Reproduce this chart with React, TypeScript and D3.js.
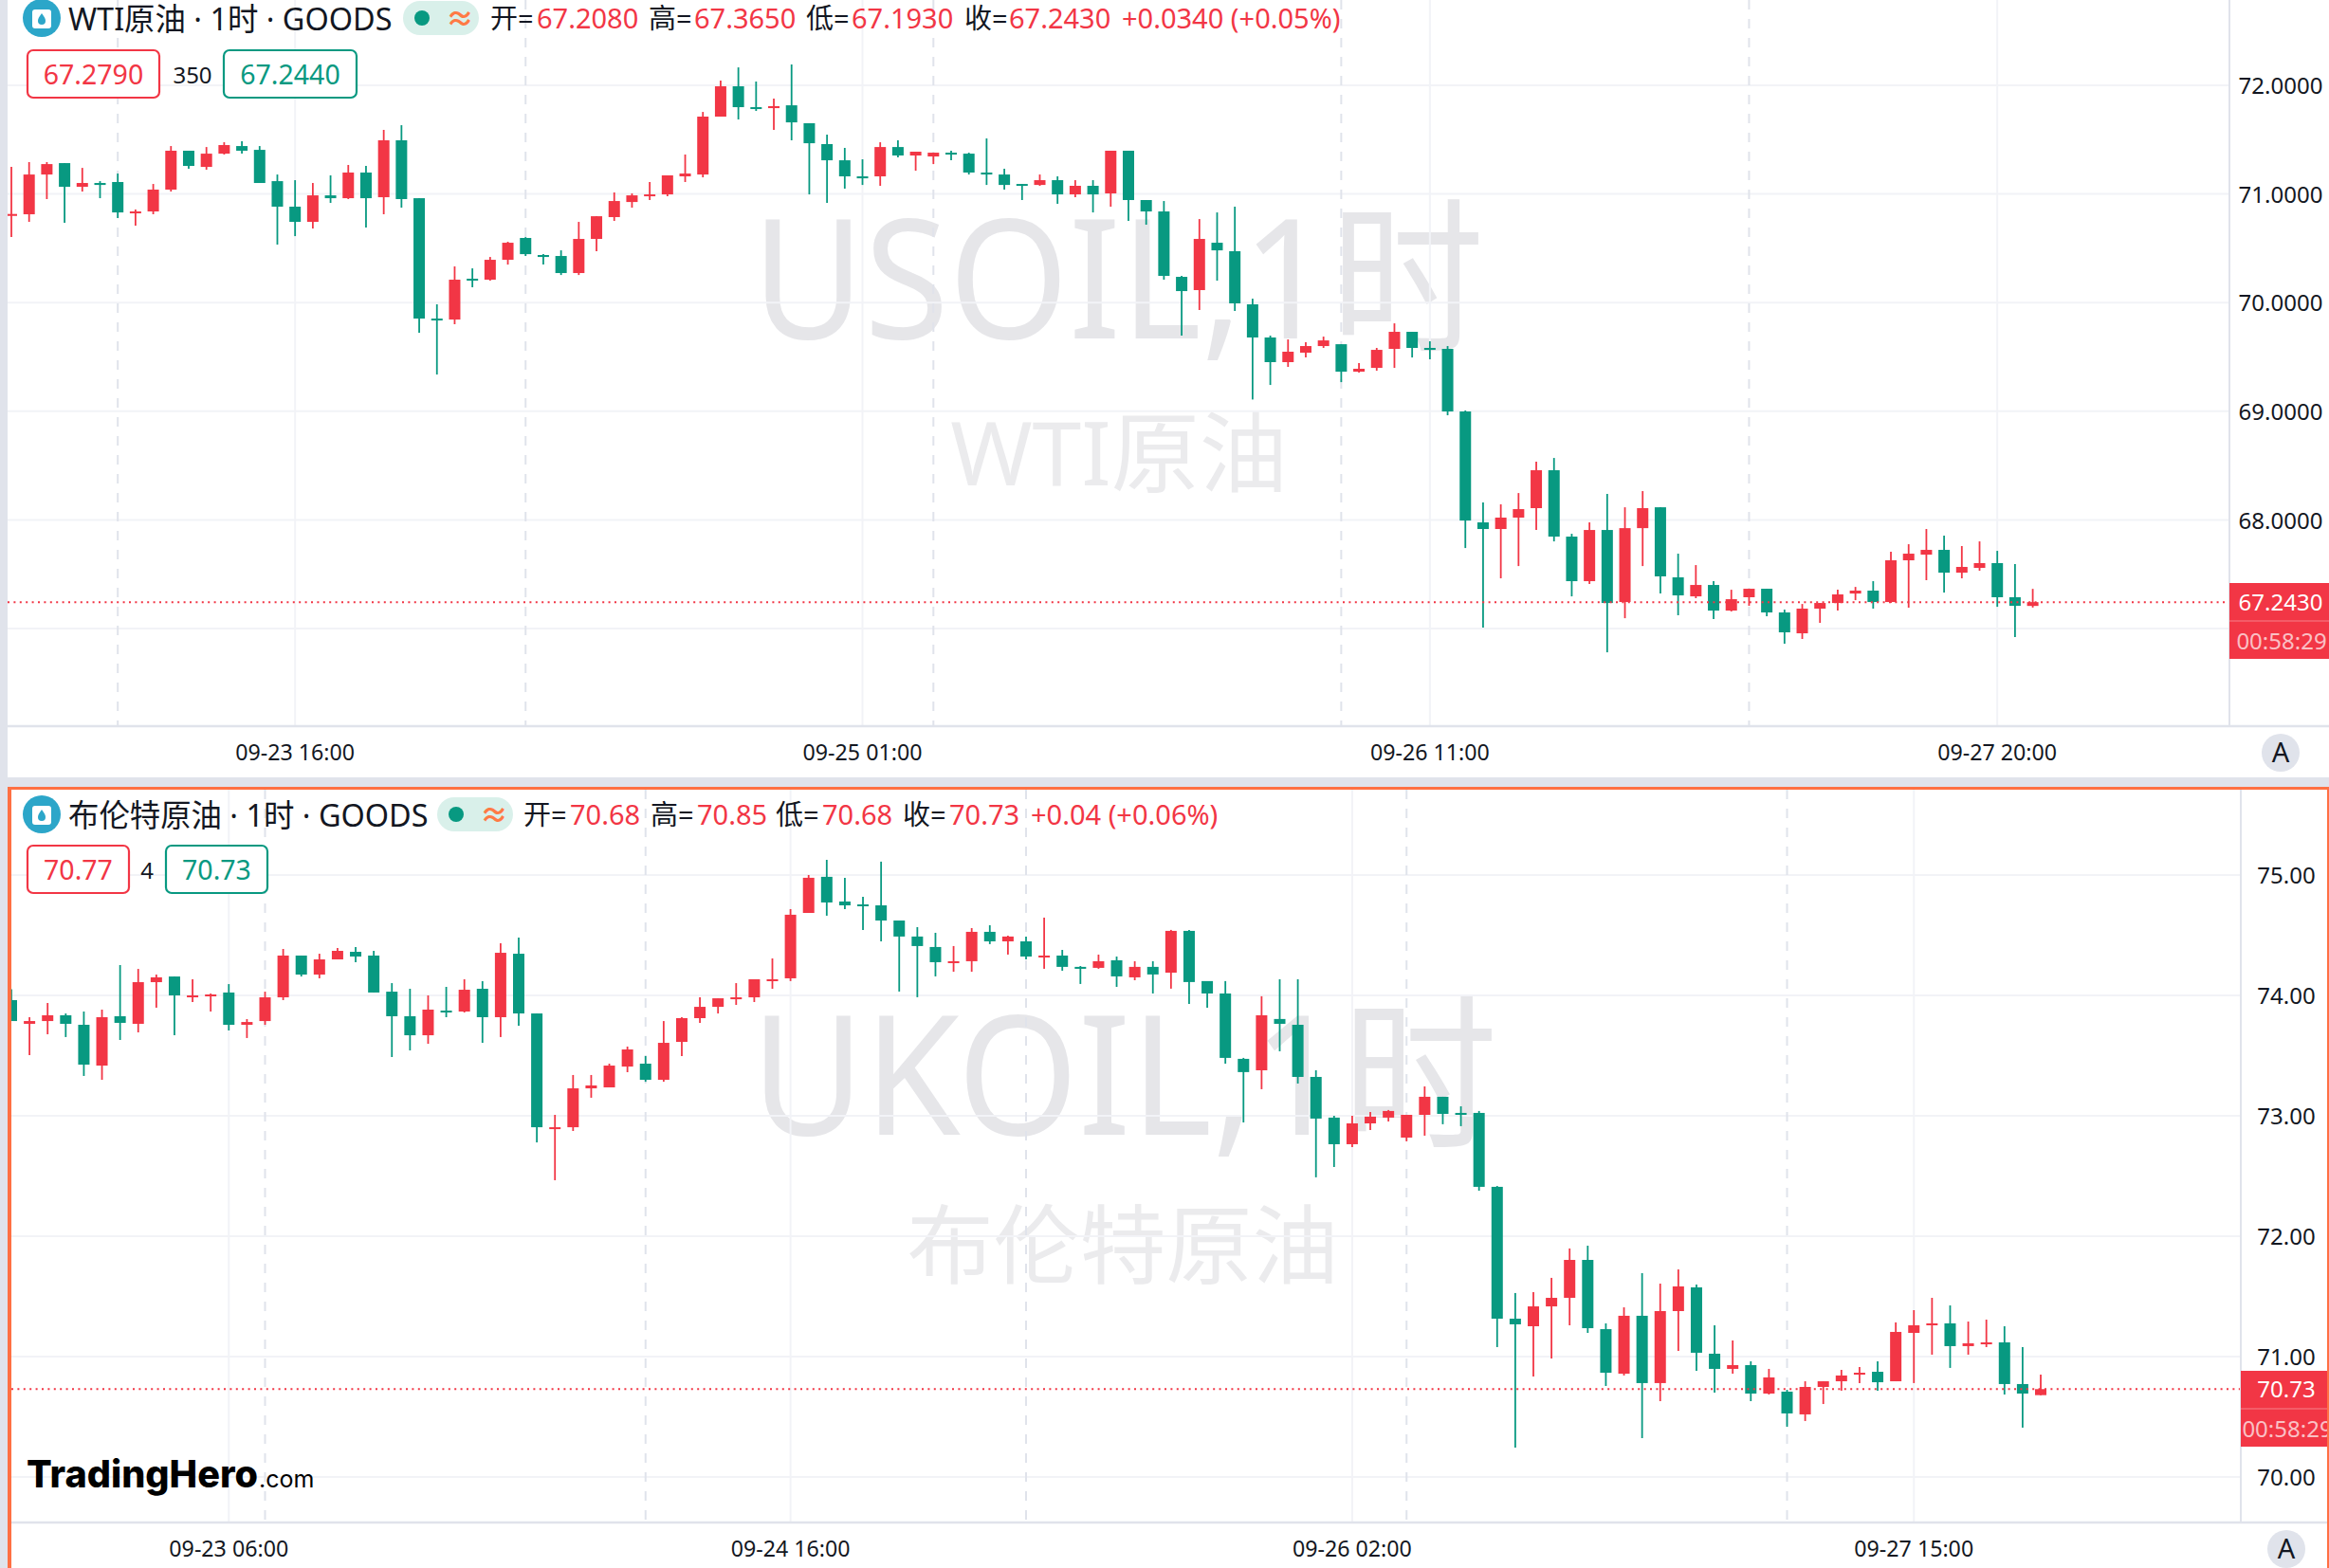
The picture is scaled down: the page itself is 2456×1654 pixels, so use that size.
import React from "react";
import * as d3 from "d3";

const wtiOpen = [70.798,70.813,71.179,71.284,71.066,71.101,71.110,70.822,70.839,71.040,
71.398,71.249,71.371,71.441,71.406,71.118,70.883,70.743,70.987,70.961,
71.197,70.970,71.494,70.961,69.853,69.844,70.220,70.211,70.394,70.595,
70.438,70.429,70.272,70.586,70.787,70.926,70.979,70.996,71.162,71.179,
71.712,71.991,71.799,71.790,71.816,71.651,71.459,71.310,71.162,71.162,
71.432,71.354,71.345,71.380,71.371,71.197,71.179,71.092,71.083,71.127,
70.996,71.075,71.005,71.398,70.944,70.839,70.237,70.115,70.551,70.473,
69.984,69.679,69.452,69.539,69.600,69.617,69.364,69.399,69.574,69.731,
69.583,69.574,68.998,67.977,67.916,68.021,68.108,68.457,67.846,67.436,
67.907,67.244,67.924,68.116,67.471,67.296,67.401,67.165,67.288,67.366,
67.148,66.956,67.183,67.235,67.322,67.349,67.244,67.628,67.680,67.724,
67.514,67.558,67.602,67.288,67.208];
const wtiHigh = [71.249,71.293,71.293,71.284,71.240,71.118,71.188,70.857,71.092,71.441,
71.398,71.432,71.476,71.485,71.441,71.179,71.127,71.101,71.171,71.267,
71.258,71.590,71.633,70.961,69.984,70.333,70.315,70.420,70.560,70.603,
70.446,70.481,70.743,70.795,71.014,71.005,71.110,71.171,71.363,71.755,
72.043,72.165,72.035,71.877,72.192,71.651,71.546,71.424,71.319,71.476,
71.494,71.389,71.380,71.398,71.380,71.511,71.232,71.092,71.179,71.162,
71.127,71.127,71.398,71.398,70.944,70.935,70.246,70.769,70.830,70.883,
70.036,69.696,69.661,69.635,69.687,69.617,69.443,69.583,69.809,69.731,
69.644,69.600,69.007,68.160,68.143,68.247,68.535,68.570,67.872,67.977,
68.239,68.116,68.265,68.116,67.689,67.584,67.436,67.357,67.366,67.366,
67.174,67.226,67.235,67.357,67.383,67.436,67.706,67.776,67.916,67.855,
67.759,67.802,67.715,67.593,67.365];
const wtiLow = [70.603,70.743,70.953,70.734,71.022,70.961,70.778,70.708,70.813,71.022,
71.232,71.223,71.363,71.371,71.101,70.534,70.612,70.682,70.918,70.953,
70.691,70.813,70.874,69.722,69.338,69.801,70.141,70.202,70.350,70.429,
70.350,70.254,70.254,70.473,70.752,70.874,70.944,70.979,71.110,71.153,
71.712,71.686,71.764,71.590,71.494,70.996,70.918,71.049,71.083,71.075,
71.336,71.214,71.275,71.310,71.179,71.083,71.040,70.944,71.075,70.909,
70.970,70.830,70.883,70.752,70.717,70.211,69.696,69.932,70.202,69.923,
69.108,69.242,69.408,69.495,69.583,69.268,69.356,69.373,69.399,69.495,
69.478,68.963,67.741,67.008,67.462,67.575,67.907,67.802,67.296,67.410,
66.781,67.095,67.575,67.322,67.122,67.279,67.087,67.157,67.209,67.113,
66.860,66.904,67.052,67.165,67.261,67.183,67.235,67.192,67.445,67.331,
67.462,67.532,67.200,66.921,67.193];
const wtiClose = [70.816,71.179,71.275,71.066,71.101,71.083,70.830,70.839,71.040,71.398,
71.258,71.371,71.450,71.398,71.101,70.883,70.743,70.987,70.961,71.197,
70.961,71.494,70.953,69.853,69.836,70.211,70.202,70.394,70.551,70.446,
70.420,70.272,70.586,70.795,70.935,70.987,70.996,71.171,71.188,71.712,
71.991,71.799,71.782,71.808,71.659,71.467,71.310,71.162,71.144,71.432,
71.354,71.389,71.380,71.363,71.197,71.179,71.083,71.075,71.127,70.996,
71.075,70.996,71.398,70.944,70.839,70.246,70.106,70.586,70.481,69.993,
69.679,69.452,69.548,69.600,69.652,69.364,69.391,69.565,69.731,69.583,
69.565,68.998,67.994,67.916,68.021,68.099,68.457,67.846,67.436,67.907,
67.235,67.924,68.108,67.480,67.305,67.401,67.165,67.270,67.366,67.148,
66.965,67.183,67.235,67.314,67.349,67.244,67.628,67.689,67.724,67.514,
67.567,67.602,67.288,67.209,67.243];

const brentOpen = [73.961,73.764,73.787,73.835,73.756,73.417,73.827,73.764,74.110,74.157,
73.984,73.992,74.024,73.756,73.787,73.984,74.331,74.173,74.299,74.362,
74.331,74.031,73.827,73.669,73.874,73.866,74.055,73.819,74.346,73.850,
72.890,72.905,73.228,73.236,73.409,73.433,73.299,73.614,73.811,73.905,
73.968,73.984,74.118,74.142,74.685,74.985,74.780,74.756,74.748,74.622,
74.489,74.402,74.268,74.284,74.528,74.449,74.449,74.315,74.331,74.237,
74.229,74.292,74.150,74.237,74.189,74.536,74.119,74.016,73.473,73.378,
73.804,73.756,73.323,72.985,72.764,72.937,72.985,72.819,73.008,73.158,
73.024,73.024,72.410,71.315,71.252,71.417,71.488,71.803,71.228,70.858,
71.339,70.780,71.378,71.575,71.024,70.898,70.929,70.693,70.709,70.520,
70.748,70.795,70.850,70.874,70.795,71.197,71.260,71.276,71.087,71.102,
71.118,70.772,70.68];
const brentHigh = [74.052,73.819,73.937,73.850,73.866,73.882,74.252,74.220,74.173,74.157,
74.134,74.016,74.094,73.803,74.031,74.386,74.331,74.346,74.394,74.402,
74.370,74.102,74.055,74.000,74.071,74.134,74.118,74.433,74.480,73.850,
73.008,73.339,73.339,73.433,73.575,73.496,73.787,73.819,73.984,73.976,
74.102,74.134,74.307,74.717,75.000,75.126,74.977,74.819,75.111,74.622,
74.567,74.520,74.410,74.559,74.583,74.496,74.489,74.646,74.378,74.244,
74.339,74.323,74.284,74.284,74.544,74.544,74.119,74.119,73.481,73.993,
74.134,74.134,73.378,73.000,73.000,73.032,73.048,73.008,73.244,73.158,
73.079,73.040,72.417,71.528,71.535,71.654,71.898,71.921,71.276,71.409,
71.693,71.606,71.724,71.598,71.260,71.134,70.961,70.898,70.724,70.795,
70.795,70.890,70.913,70.961,71.284,71.386,71.488,71.425,71.291,71.307,
71.252,71.079,70.85];
const brentLow = [73.787,73.504,73.677,73.654,73.331,73.299,73.630,73.693,73.898,73.669,
73.945,73.866,73.709,73.646,73.756,73.961,74.157,74.142,74.299,74.276,
74.024,73.488,73.543,73.598,73.819,73.858,73.606,73.654,73.748,72.779,
72.465,72.874,73.150,73.236,73.362,73.283,73.283,73.496,73.772,73.850,
73.921,73.945,74.055,74.119,74.685,74.662,74.717,74.544,74.449,74.032,
73.985,74.158,74.197,74.197,74.426,74.339,74.300,74.221,74.205,74.095,
74.221,74.071,74.126,74.016,74.056,73.930,73.898,73.433,72.945,73.221,
73.536,73.268,72.489,72.575,72.741,72.882,72.953,72.788,72.835,72.930,
72.914,72.378,71.079,70.244,70.835,70.984,71.260,71.197,70.756,70.843,
70.323,70.630,71.047,70.882,70.701,70.858,70.630,70.685,70.417,70.465,
70.606,70.717,70.780,70.717,70.795,70.780,71.016,70.906,71.016,71.079,
70.685,70.410,70.68];
const brentClose = [73.787,73.787,73.835,73.764,73.425,73.819,73.772,74.110,74.150,74.000,
74.000,74.008,73.756,73.779,73.984,74.331,74.173,74.299,74.370,74.323,
74.024,73.827,73.669,73.882,73.858,74.047,73.819,74.354,73.850,72.905,
72.905,73.228,73.252,73.417,73.551,73.299,73.606,73.811,73.905,73.976,
73.984,74.134,74.134,74.670,74.977,74.772,74.748,74.741,74.622,74.489,
74.410,74.276,74.284,74.528,74.449,74.489,74.323,74.331,74.237,74.221,
74.284,74.158,74.237,74.174,74.536,74.111,74.016,73.481,73.363,73.835,
73.764,73.323,72.977,72.764,72.937,72.993,73.040,73.008,73.158,73.016,
73.008,72.410,71.315,71.268,71.417,71.488,71.803,71.236,70.866,71.339,
70.780,71.378,71.583,71.032,70.898,70.929,70.693,70.827,70.528,70.748,
70.795,70.843,70.866,70.787,71.205,71.260,71.276,71.087,71.110,71.118,
70.772,70.693,70.73];

const wtiPriceTicks = [72, 71, 70, 69, 68, 67];
const brentPriceTicks = [75, 74, 73, 72, 71, 70];
const wtiTimeIndex = [16, 48, 80, 112];
const wtiTimeLabels = ["09-23 16:00", "09-25 01:00", "09-26 11:00", "09-27 20:00"];
const brentTimeIndex = [12, 43, 74, 105];
const brentTimeLabels = ["09-23 06:00", "09-24 16:00", "09-26 02:00", "09-27 15:00"];
const wtiSessionIndex = [6, 29, 52, 75, 98];
const brentSessionIndex = [14, 35, 56, 77, 98];

const RED = "#f23645";
const GREEN = "#089981";
const GRID = "#f2f3f7";
const AXIS = "#e0e3eb";
const ORANGE = "#ff7043";
const FONT = "'Noto Sans','Noto Sans CJK SC',sans-serif";

type Part = { x: number; t: string; c: string };
type PanelProps = {
  id: string; open: number[]; high: number[]; low: number[]; close: number[];
  priceTicks: number[]; decimals: number; yDomain: [number, number]; yRange: [number, number];
  xEnd: number; timeIndex: number[]; timeLabels: string[]; sessionIndex: number[];
  plotLeft: number; plotTop: number; plotBottom: number; axisX: number; axisLabelX: number;
  lastPrice: number; countdown: string; tagTop: number;
  title: string; titleY: number; pillX: number; ohlc: Part[];
  boxY: number; bid: string; ask: string; spread: string; bidBox: [number, number]; askBox: [number, number]; spreadX: number;
  wm1: string; wm1X: number; wm1Len: number; wm1Y: number; wm2: string; wm2X: number; wm2Y: number; wm2Size: number; labelY: number; btnX: number;
};

function Panel(p: PanelProps) {
  const n = p.open.length;
  const x = d3.scaleLinear().domain([0, n - 1]).range([12, p.xEnd]);
  const y = d3.scaleLinear().domain(p.yDomain).range(p.yRange);
  const lastY = y(p.lastPrice);
  const cy = p.titleY;
  return (
    <g fontFamily={FONT}>
      <defs>
        <clipPath id={p.id + "clip"}>
          <rect x={p.plotLeft} y={p.plotTop} width={p.axisX - p.plotLeft} height={p.plotBottom - p.plotTop} />
        </clipPath>
        <clipPath id={p.id + "tag"}>
          <rect x={p.axisX} y={p.tagTop} width={2456 - p.axisX} height={80} />
        </clipPath>
      </defs>
      <text x={p.wm1X} y={p.wm1Y} fontSize={175} fill="#e6e6e9" textLength={p.wm1Len} lengthAdjust="spacingAndGlyphs">{p.wm1}</text>
      <text x={p.wm2X} y={p.wm2Y} textAnchor="middle" fontSize={p.wm2Size} fill="#ebebed">{p.wm2}</text>
      {p.priceTicks.map((t) => (
        <line key={t} x1={p.plotLeft} x2={p.axisX} y1={y(t)} y2={y(t)} stroke={GRID} strokeWidth={2} />
      ))}
      {p.timeIndex.map((i) => (
        <line key={i} x1={x(i)} x2={x(i)} y1={p.plotTop} y2={p.plotBottom} stroke={GRID} strokeWidth={2} />
      ))}
      {p.sessionIndex.map((i) => (
        <line key={i} x1={x(i)} x2={x(i)} y1={p.plotTop} y2={p.plotBottom} stroke={AXIS} strokeWidth={2} strokeDasharray="10 10" />
      ))}
      <g clipPath={`url(#${p.id}clip)`}>
        {p.open.map((o, i) => {
          const c = p.close[i];
          const col = c >= o ? RED : GREEN;
          const top = y(Math.max(o, c));
          const bot = y(Math.min(o, c));
          return (
            <g key={i}>
              <line x1={x(i)} x2={x(i)} y1={y(p.high[i])} y2={y(p.low[i])} stroke={col} strokeWidth={1.8} />
              <rect x={x(i) - 6} width={12} y={top} height={Math.max(bot - top, 2)} fill={col} />
            </g>
          );
        })}
      </g>
      <line x1={p.plotLeft} x2={p.axisX} y1={lastY} y2={lastY} stroke={RED} strokeWidth={2} strokeDasharray="2 4.4" />
      <line x1={p.axisX} x2={p.axisX} y1={p.plotTop} y2={p.plotBottom} stroke={AXIS} strokeWidth={2} />
      <line x1={p.plotLeft} x2={2456} y1={p.plotBottom + 1} y2={p.plotBottom + 1} stroke={AXIS} strokeWidth={2.5} />
      {p.priceTicks.filter((t) => t >= p.yDomain[0] + (p.id === "w" ? 1 : 0)).map((t) => (
        <text key={t} x={p.axisLabelX} y={y(t) + 0.5} dy="0.36em" textAnchor="middle" fontSize={24} fill="#131722">
          {t.toFixed(p.decimals)}
        </text>
      ))}
      {p.timeIndex.map((i, k) => (
        <text key={i} x={x(i)} y={p.labelY + 0.5} dy="0.36em" textAnchor="middle" fontSize={23.2} fill="#131722">
          {p.timeLabels[k]}
        </text>
      ))}
      <g clipPath={`url(#${p.id}tag)`}>
        <rect x={p.axisX} y={p.tagTop} width={2456 - p.axisX} height={80} fill={RED} />
        <line x1={p.axisX} x2={2456} y1={p.tagTop + 40} y2={p.tagTop + 40} stroke="#fff" strokeOpacity={0.25} strokeWidth={1.5} />
        <text x={p.axisLabelX} y={lastY + 0.5} dy="0.36em" textAnchor="middle" fontSize={24} fill="#fff">{p.lastPrice.toFixed(p.decimals)}</text>
        <text x={p.axisLabelX + 1} y={p.tagTop + 61.5} dy="0.36em" textAnchor="middle" fontSize={24} fill="#fff" fillOpacity={0.7}>{p.countdown}</text>
      </g>
      <circle cx={p.btnX} cy={p.labelY + 1} r={20} fill={AXIS} />
      <text x={p.btnX} y={p.labelY + 1} dy="0.36em" textAnchor="middle" fontSize={29} fill="#131722">A</text>

      <circle cx={44} cy={cy} r={20} fill="#2ca6c9" />
      <rect x={34} y={cy - 9} width={20} height={20} rx={3} fill="#fff" />
      <path d={`M44 ${cy - 5} C47 ${cy - 1} 48 ${cy + 1} 48 ${cy + 3} A4 4 0 0 1 40 ${cy + 3} C40 ${cy + 1} 41 ${cy - 1} 44 ${cy - 5} Z`} fill="#2ca6c9" />
      <text x={72} y={cy + 1} dy="0.36em" fontSize={32.4} fill="#131722">{p.title}</text>
      <rect x={p.pillX} y={cy - 18} width={80} height={36} rx={18} fill="#d9f0ea" />
      <circle cx={p.pillX + 20} cy={cy} r={8} fill={GREEN} />
      <text x={p.pillX + 60} y={cy} dy="0.36em" textAnchor="middle" fontSize={30} fontWeight={700} fill="#ff7a45">≈</text>
      {p.ohlc.map((s, i) => (
        <text key={i} x={s.x} y={cy + 1} dy="0.36em" fontSize={29} fill={s.c}>{s.t}</text>
      ))}
      <rect x={p.bidBox[0]} y={p.boxY} width={p.bidBox[1] - p.bidBox[0]} height={50} rx={6} fill="#fff" stroke={RED} strokeWidth={2.2} />
      <text x={(p.bidBox[0] + p.bidBox[1]) / 2} y={p.boxY + 26} dy="0.36em" textAnchor="middle" fontSize={28.5} fill={RED}>{p.bid}</text>
      <text x={p.spreadX} y={p.boxY + 26} dy="0.36em" textAnchor="middle" fontSize={24} fill="#131722">{p.spread}</text>
      <rect x={p.askBox[0]} y={p.boxY} width={p.askBox[1] - p.askBox[0]} height={50} rx={6} fill="#fff" stroke={GREEN} strokeWidth={2.2} />
      <text x={(p.askBox[0] + p.askBox[1]) / 2} y={p.boxY + 26} dy="0.36em" textAnchor="middle" fontSize={28.5} fill={GREEN}>{p.ask}</text>
    </g>
  );
}

const K = "#131722";

export default function App() {
  return (
    <svg width={2456} height={1654} viewBox="0 0 2456 1654" style={{ position: "absolute", left: 0, top: 0, display: "block", background: "#fff" }}>
      <rect x={0} y={0} width={8} height={1654} fill={AXIS} />
      <rect x={0} y={820} width={2456} height={10} fill={AXIS} />
      <Panel
        id="w" open={wtiOpen} high={wtiHigh} low={wtiLow} close={wtiClose}
        priceTicks={wtiPriceTicks} decimals={4} yDomain={[67, 72]} yRange={[663, 90]} xEnd={2143.6}
        timeIndex={wtiTimeIndex} timeLabels={wtiTimeLabels} sessionIndex={wtiSessionIndex}
        plotLeft={8} plotTop={0} plotBottom={765} axisX={2351} axisLabelX={2405}
        lastPrice={67.243} countdown="00:58:29" tagTop={615}
        title="WTI原油 · 1时 · GOODS" titleY={19} pillX={425}
        ohlc={[
          { x: 517, t: "开=", c: K }, { x: 566, t: "67.2080", c: RED },
          { x: 684, t: "高=", c: K }, { x: 732, t: "67.3650", c: RED },
          { x: 850, t: "低=", c: K }, { x: 898, t: "67.1930", c: RED },
          { x: 1017, t: "收=", c: K }, { x: 1064, t: "67.2430", c: RED },
          { x: 1183, t: "+0.0340 (+0.05%)", c: RED },
        ]}
        boxY={53} bid="67.2790" ask="67.2440" spread="350" bidBox={[29, 168]} askBox={[236, 376]} spreadX={203}
        wm1="USOIL,1时" wm1X={793} wm1Len={772} wm1Y={357} wm2="WTI原油" wm2X={1180} wm2Y={512} wm2Size={93} labelY={793} btnX={2405}
      />
      <Panel
        id="b" open={brentOpen} high={brentHigh} low={brentLow} close={brentClose}
        priceTicks={brentPriceTicks} decimals={2} yDomain={[70, 75]} yRange={[1558, 923]} xEnd={2152}
        timeIndex={brentTimeIndex} timeLabels={brentTimeLabels} sessionIndex={brentSessionIndex}
        plotLeft={12} plotTop={833} plotBottom={1605} axisX={2363} axisLabelX={2411}
        lastPrice={70.73} countdown="00:58:29" tagTop={1446}
        title="布伦特原油 · 1时 · GOODS" titleY={859} pillX={461}
        ohlc={[
          { x: 552, t: "开=", c: K }, { x: 601, t: "70.68", c: RED },
          { x: 686, t: "高=", c: K }, { x: 735, t: "70.85", c: RED },
          { x: 818, t: "低=", c: K }, { x: 867, t: "70.68", c: RED },
          { x: 952, t: "收=", c: K }, { x: 1001, t: "70.73", c: RED },
          { x: 1087, t: "+0.04 (+0.06%)", c: RED },
        ]}
        boxY={892} bid="70.77" ask="70.73" spread="4" bidBox={[29, 136]} askBox={[175, 282]} spreadX={155}
        wm1="UKOIL,1时" wm1X={792} wm1Len={787} wm1Y={1197} wm2="布伦特原油" wm2X={1184} wm2Y={1347} wm2Size={91} labelY={1633} btnX={2411}
      />
      <rect x={8} y={830} width={2448} height={3} fill={ORANGE} />
      <rect x={8} y={830} width={4} height={824} fill={ORANGE} />
      <rect x={2454} y={830} width={2} height={824} fill={ORANGE} />
      <text x={28} y={1569} fontFamily="Inter, sans-serif" fontWeight={800} fontSize={40} fill="#000" textLength={244} lengthAdjust="spacingAndGlyphs">TradingHero</text>
      <text x={273} y={1569} fontFamily="Inter, sans-serif" fontSize={25} fill="#000">.com</text>
    </svg>
  );
}
